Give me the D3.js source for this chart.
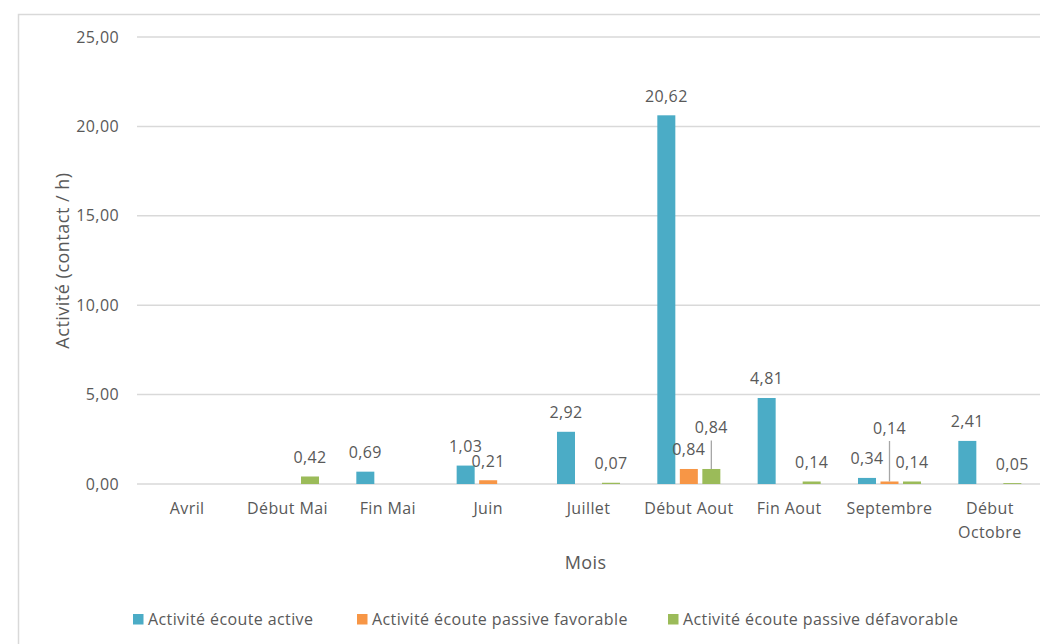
<!DOCTYPE html>
<html>
<head>
<meta charset="utf-8">
<script src="https://cdn.jsdelivr.net/npm/d3@7"></script>
<style>
  html, body { margin: 0; padding: 0; background: #fff; }
  svg { display: block; font-family: "Open Sans", "Noto Sans", sans-serif; }
  svg text { letter-spacing: 0.4px; }
</style>
</head>
<body>
<svg id="chart" width="1040" height="644"></svg>
<script>
// ---- Data ----
const categories = ["Avril", "Début Mai", "Fin Mai", "Juin", "Juillet", "Début Aout", "Fin Aout", "Septembre", "Début Octobre"];
const seriesNames = ["Activité écoute active", "Activité écoute passive favorable", "Activité écoute passive défavorable"];
const ecouteActive = [null, null, 0.69, 1.03, 2.92, 20.62, 4.81, 0.34, 2.41];
const passiveFavorable = [null, null, null, 0.21, null, 0.84, null, 0.14, null];
const passiveDefavorable = [null, 0.42, null, null, 0.07, 0.84, 0.14, 0.14, 0.05];
const yTicks = [0, 5, 10, 15, 20, 25];
const yTitle = "Activité (contact / h)";
const xTitle = "Mois";

// ---- Style ----
const colors = ["#4bacc6", "#f79646", "#9bbb59"];
const textColor = "#595959";
const gridColor = "#d9d9d9";
// labels moved by hand (with leader lines), keyed "category|seriesIndex": extra px upwards
const labelLift = { "Début Aout|2": 22, "Septembre|1": 34 };

const seriesValues = [ecouteActive, passiveFavorable, passiveDefavorable];
const svg = d3.select("#chart");
const fr = d3.formatLocale({ decimal: ",", thousands: " ", grouping: [3], currency: ["", " €"] });
const fmt = fr.format(".2f");

const plot = { left: 137, right: 1040, top: 37, bottom: 484 };

// chart border
svg.append("rect").attr("x", 18.5).attr("y", 14.5).attr("width", 1100).attr("height", 700)
  .attr("fill", "none").attr("stroke", gridColor).attr("stroke-width", 1.5);

const y = d3.scaleLinear().domain([0, 25]).range([plot.bottom, plot.top]);
const x0 = d3.scaleBand().domain(categories).range([plot.left, plot.right])
  .paddingInner(0.327).paddingOuter(0.1635);
const x1 = d3.scaleBand().domain(d3.range(seriesNames.length)).range([0, x0.bandwidth()])
  .paddingInner(0.2).paddingOuter(0.1);

// gridlines + y axis labels
const yAxis = d3.axisLeft(y).tickValues(yTicks).tickFormat(fmt).tickSize(0).tickPadding(18);
const gy = svg.append("g").attr("transform", `translate(${plot.left},0)`).call(yAxis);
gy.select(".domain").remove();
gy.selectAll("text").attr("fill", textColor).style("font-size", "16px").attr("font-family", null);
svg.append("g").selectAll("line").data(yTicks).join("line")
  .attr("x1", plot.left).attr("x2", plot.right)
  .attr("y1", d => y(d)).attr("y2", d => y(d))
  .attr("stroke", gridColor).attr("stroke-width", 1.5);

// x axis labels
const xAxis = d3.axisBottom(x0).tickSize(0).tickPadding(19);
const gx = svg.append("g").attr("transform", `translate(0,${plot.bottom})`).call(xAxis);
gx.select(".domain").remove();
gx.selectAll("text").attr("fill", textColor).style("font-size", "16px")
  .each(function(d) {
    const t = d3.select(this);
    if (this.getComputedTextLength() > x0.step() * 0.95) {
      const words = d.split(" ");
      t.text(null);
      words.forEach((w, i) => {
        t.append("tspan").attr("x", 0).attr("dy", i === 0 ? "0.71em" : "1.45em").text(w);
      });
      t.attr("dy", null);
    }
  });
gy.attr("font-family", null); gx.attr("font-family", null);

// bars
const rows = [];
categories.forEach((c, ci) => {
  seriesValues.forEach((vals, si) => {
    if (vals[ci] !== null) rows.push({ c, si, v: vals[ci] });
  });
});

svg.append("g").selectAll("rect").data(rows).join("rect")
  .attr("x", d => x0(d.c) + x1(d.si))
  .attr("width", x1.bandwidth())
  .attr("y", d => y(d.v))
  .attr("height", d => y(0) - y(d.v))
  .attr("fill", d => colors[d.si]);

// data labels
const lg = svg.append("g");
rows.forEach(d => {
  const cx = x0(d.c) + x1(d.si) + x1.bandwidth() / 2;
  const lift = labelLift[d.c + "|" + d.si] || 0;
  const by = y(d.v) - 13.5 - lift;
  if (lift) {
    lg.append("line").attr("x1", cx).attr("x2", cx)
      .attr("y1", by + 7).attr("y2", y(d.v))
      .attr("stroke", "#a6a6a6").attr("stroke-width", 1.3);
  }
  lg.append("text").attr("x", cx).attr("y", by)
    .attr("text-anchor", "middle").attr("fill", textColor)
    .style("font-size", "16px").text(fmt(d.v));
});

// axis titles
svg.append("text").attr("x", (plot.left + plot.right) / 2 - 3).attr("y", 569)
  .attr("text-anchor", "middle").attr("fill", textColor).style("font-size", "18px").text(xTitle);
svg.append("text").attr("transform", `translate(69,${(plot.top + plot.bottom) / 2}) rotate(-90)`)
  .attr("text-anchor", "middle").attr("fill", textColor).style("font-size", "18px")
  .style("letter-spacing", "0.5px").text(yTitle);

// legend
const legendX = [133, 357, 668];
const leg = svg.append("g");
seriesNames.forEach((n, i) => {
  leg.append("rect").attr("x", legendX[i]).attr("y", 614).attr("width", 10.5).attr("height", 10.5).attr("fill", colors[i]);
  leg.append("text").attr("x", legendX[i] + 15).attr("y", 625).attr("fill", textColor)
    .style("font-size", "16px").text(n);
});
</script>
</body>
</html>
